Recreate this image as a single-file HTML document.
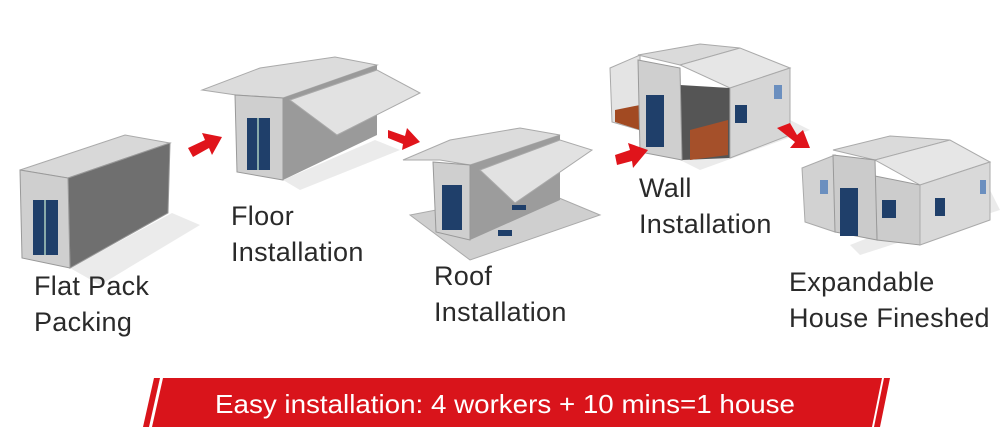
<!DOCTYPE html>
<html><head><meta charset="utf-8"><style>
body{margin:0;width:1000px;height:444px;background:#fff;overflow:hidden;position:relative;font-family:"Liberation Sans",sans-serif}
.t{position:absolute;font-size:27px;color:#2a2a2a;line-height:36px;letter-spacing:0.3px}
svg{position:absolute;left:0;top:0}
</style></head><body>
<svg width="1000" height="444" viewBox="0 0 1000 444">
<!-- Flat pack -->
<polygon points="70,268 172,213 200,225 100,285" fill="#ddd" opacity=".6"/>
<polygon points="20,170 68,178 170,143 125,135" fill="#d8d8d8" stroke="#aaa"/>
<polygon points="68,178 170,143 168,213 70,268" fill="#6f6f6f" stroke="#999"/>
<polygon points="20,170 68,178 70,268 22,258" fill="#cfcfcf" stroke="#999"/>
<rect x="33" y="200" width="25" height="55" fill="#1f3f6a"/>
<line x1="45" y1="200" x2="45" y2="255" stroke="#8aa" stroke-width="2"/>
<!-- Floor -->
<polygon points="283,180 375,140 400,150 300,190" fill="#ddd" opacity=".6"/>
<polygon points="202,90 236,95 283,98 377,65 335,57 260,68" fill="#dcdcdc" stroke="#aaa"/>
<polygon points="283,98 377,65 377,135 283,180" fill="#9a9a9a"/>
<polygon points="290,100 377,70 420,93 337,135" fill="#e2e2e2" stroke="#aaa"/>
<polygon points="235,95 283,98 283,180 237,172" fill="#cfcfcf" stroke="#999"/>
<rect x="247" y="118" width="23" height="52" fill="#1f3f6a"/>
<line x1="258" y1="118" x2="258" y2="170" stroke="#8aa" stroke-width="2"/>
<!-- Roof -->
<polygon points="410,215 470,260 600,215 540,190" fill="#cfcfcf" stroke="#aaa"/>
<polygon points="403,160 440,160 470,165 560,135 520,128 450,140" fill="#dcdcdc" stroke="#aaa"/>
<polygon points="470,165 560,135 560,200 470,240" fill="#9c9c9c"/>
<polygon points="480,170 560,140 592,150 515,203" fill="#e2e2e2" stroke="#aaa"/>
<polygon points="433,162 470,165 470,240 436,232" fill="#cfcfcf" stroke="#999"/>
<rect x="442" y="185" width="20" height="45" fill="#1f3f6a"/>
<rect x="498" y="230" width="14" height="6" fill="#1f3f6a"/><rect x="512" y="205" width="14" height="5" fill="#1f3f6a"/>
<!-- Wall -->
<polygon points="680,160 790,120 810,130 700,170" fill="#ddd" opacity=".6"/>
<polygon points="610,68 640,55 640,130 612,122" fill="#e4e4e4" stroke="#aaa"/>
<polygon points="615,110 640,105 640,130 615,122" fill="#a24a22"/>
<polygon points="638,55 700,44 740,48 680,65" fill="#dadada" stroke="#aaa"/>
<polygon points="680,65 740,48 790,68 730,88" fill="#e6e6e6" stroke="#aaa"/>
<polygon points="680,85 730,88 730,158 682,160" fill="#555"/>
<polygon points="690,130 728,120 728,155 690,160" fill="#a5502a"/>
<polygon points="730,88 790,68 790,135 730,158" fill="#d6d6d6" stroke="#aaa"/>
<polygon points="638,60 680,68 682,160 640,152" fill="#cfcfcf" stroke="#999"/>
<rect x="646" y="95" width="18" height="52" fill="#1f3f6a"/>
<rect x="735" y="105" width="12" height="18" fill="#1f3f6a"/><rect x="774" y="85" width="8" height="14" fill="#6b8fbf"/>
<!-- Final -->
<polygon points="850,245 990,190 1000,210 860,255" fill="#ddd" opacity=".6"/>
<polygon points="802,168 835,155 835,232 805,222" fill="#d2d2d2" stroke="#aaa"/>
<polygon points="833,150 890,136 950,140 875,160" fill="#dadada" stroke="#aaa"/>
<polygon points="875,160 950,140 990,162 920,185" fill="#e6e6e6" stroke="#aaa"/>
<polygon points="875,176 920,185 920,245 877,240" fill="#ccc" stroke="#999"/>
<polygon points="920,185 990,162 990,220 920,245" fill="#d9d9d9" stroke="#aaa"/>
<polygon points="833,155 875,160 877,240 835,232" fill="#cbcbcb" stroke="#999"/>
<rect x="840" y="188" width="18" height="48" fill="#1f3f6a"/>
<rect x="820" y="180" width="8" height="14" fill="#6b8fbf"/>
<rect x="882" y="200" width="14" height="18" fill="#1f3f6a"/><rect x="935" y="198" width="10" height="18" fill="#1f3f6a"/><rect x="980" y="180" width="6" height="14" fill="#6b8fbf"/>
<!-- arrows -->
<g fill="#e0141b">
<polygon points="188,148 205,140 202,133 222,137 212,155 209,148 193,157"/>
<polygon points="388,130 405,136 407,128 420,142 402,150 403,144 388,138"/>
<polygon points="615,155 630,150 628,143 648,150 633,168 632,161 617,165"/>
<polygon points="777,128 790,123 797,135 803,130 810,148 790,148 795,142"/>
</g>
<!-- banner -->
<polygon points="143,427 154,378 160,378 149,427" fill="#d9141b"/>
<polygon points="157,378 876,378 866,427 146,427" fill="#d9141b" transform="translate(6,0)"/>
<polygon points="874,427 884,378 890,378 880,427" fill="#d9141b"/>
<text x="505" y="413" text-anchor="middle" fill="#fff" font-family="Liberation Sans Narrow, Liberation Sans, sans-serif" font-size="26" textLength="580" lengthAdjust="spacingAndGlyphs">Easy installation: 4 workers + 10 mins=1 house</text>
</svg>
<div class="t" style="left:34px;top:268px">Flat Pack<br>Packing</div>
<div class="t" style="left:231px;top:198px">Floor<br>Installation</div>
<div class="t" style="left:434px;top:258px">Roof<br>Installation</div>
<div class="t" style="left:639px;top:170px">Wall<br>Installation</div>
<div class="t" style="left:789px;top:264px;white-space:nowrap">Expandable<br>House Fineshed</div>
</body></html>
